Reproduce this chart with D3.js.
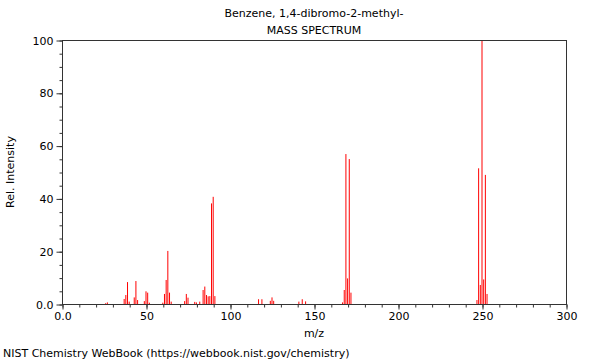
<!DOCTYPE html>
<html lang="en">
<head>
  <meta charset="UTF-8">
  <title>Benzene, 1,4-dibromo-2-methyl- mass spectrum</title>
  <script src="https://d3js.org/d3.v7.min.js"></script>
  <style>
    body { margin: 0; background: #fff; }
    text { font-family: "DejaVu Sans", sans-serif; font-size: 11px; fill: #000; }
  </style>
</head>
<body>

<div id="chart"></div>

<script>
  // Peaks (m/z and relative intensity)
  const mz = [26, 27, 37, 38, 39, 40, 43, 44, 45, 49, 50, 51, 52,
              60, 61, 62, 63, 64, 65, 73, 74, 75, 79, 80, 82,
              84, 85, 86, 87, 88, 89, 90, 91, 117, 119, 124, 125, 126,
              141, 143, 145, 167, 168, 169, 170, 171, 172,
              247, 248, 249, 250, 251, 252, 253];
  const intensity = [0.3, 0.6, 1.9, 3.4, 8.3, 0.9, 2.5, 8.7, 1.5, 1.1, 4.8, 4.3, 0.5,
                     0.5, 3.8, 9.1, 20.1, 4.3, 0.9, 1.1, 3.8, 2.4, 0.8, 0.6, 0.9,
                     5.3, 6.6, 3.4, 2.9, 3.0, 38.1, 40.6, 3.0, 1.8, 1.8, 1.2, 2.5, 1.2,
                     0.9, 1.8, 1.0, 0.6, 5.3, 56.8, 9.7, 54.9, 4.3,
                     1.5, 51.4, 7.2, 100, 9.3, 48.9, 3.8];

  const xMajor = [0, 50, 100, 150, 200, 250, 300];
  const yMajor = [0, 20, 40, 60, 80, 100];

  const width = 600, height = 360;
  const plotLeft = 62, plotRight = 566, plotTop = 40, plotBottom = 304;

  const svg = d3.select("#chart").append("svg")
    .attr("width", width)
    .attr("height", height);

  const x = d3.scaleLinear().domain([0, 300]).range([plotLeft, plotRight]);
  const y = d3.scaleLinear().domain([0, 100]).range([plotBottom, plotTop]);

  // peaks
  svg.append("g")
    .selectAll("line")
    .data(mz.map((m, i) => ({ m: m, v: intensity[i] })))
    .enter()
    .append("line")
    .attr("x1", d => x(d.m))
    .attr("x2", d => x(d.m))
    .attr("y1", y(0))
    .attr("y2", d => y(d.v))
    .attr("stroke", "#ff0000")
    .attr("stroke-width", 1);

  // frame
  svg.append("rect")
    .attr("x", plotLeft + 0.5)
    .attr("y", plotTop + 0.5)
    .attr("width", plotRight - plotLeft)
    .attr("height", plotBottom - plotTop)
    .attr("fill", "none")
    .attr("stroke", "#333");

  const fmt = d => d === 0 ? "0.0" : d;

  // x axis: minor then major
  svg.append("g")
    .attr("transform", `translate(0.5, ${plotBottom + 0.5})`)
    .call(d3.axisBottom(x).tickValues(d3.range(0, 301, 10)).tickSize(3).tickFormat(""))
    .call(g => g.select(".domain").remove());
  svg.append("g")
    .attr("transform", `translate(0.5, ${plotBottom + 0.5})`)
    .call(d3.axisBottom(x).tickValues(xMajor).tickSize(5).tickPadding(3).tickFormat(fmt))
    .call(g => g.select(".domain").remove());

  // y axis
  svg.append("g")
    .attr("transform", `translate(${plotLeft + 0.5}, 0.5)`)
    .call(d3.axisLeft(y).tickValues(d3.range(0, 101, 5)).tickSize(3).tickFormat(""))
    .call(g => g.select(".domain").remove());
  svg.append("g")
    .attr("transform", `translate(${plotLeft + 0.5}, 0.5)`)
    .call(d3.axisLeft(y).tickValues(yMajor).tickSize(6).tickPadding(3).tickFormat(fmt))
    .call(g => g.select(".domain").remove());

  svg.selectAll(".tick line").attr("stroke", "#333");
  svg.selectAll(".tick text").style("font-size", "11px").style("font-family", "DejaVu Sans, sans-serif");

  // titles
  svg.append("text")
    .attr("x", 314).attr("y", 17)
    .attr("text-anchor", "middle")
    .text("Benzene, 1,4-dibromo-2-methyl-");
  svg.append("text")
    .attr("x", 314).attr("y", 34)
    .attr("text-anchor", "middle")
    .text("MASS SPECTRUM");

  svg.append("text")
    .attr("x", 314).attr("y", 337)
    .attr("text-anchor", "middle")
    .text("m/z");

  svg.append("text")
    .attr("transform", "translate(14, 172) rotate(-90)")
    .attr("text-anchor", "middle")
    .text("Rel. Intensity");

  svg.append("text")
    .attr("x", 3).attr("y", 357)
    .text("NIST Chemistry WebBook (https://webbook.nist.gov/chemistry)");
</script>

</body>
</html>
